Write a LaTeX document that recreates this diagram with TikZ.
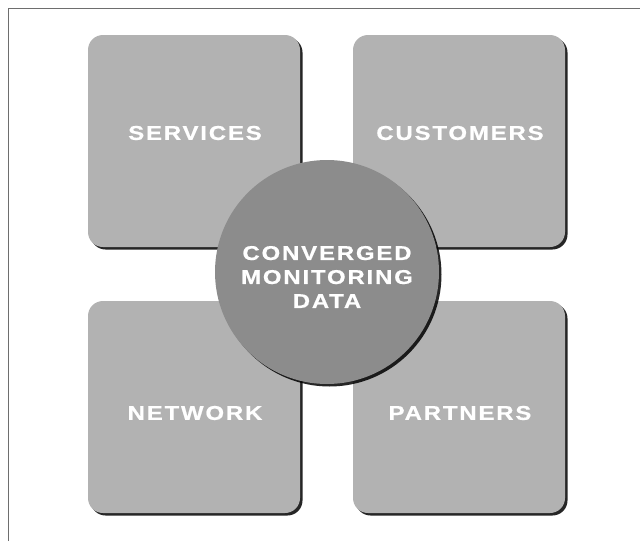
\documentclass[tikz,border=0pt]{standalone}
\usepackage{fontspec}
\newfontfamily\hfont[FakeStretch=1.2,LetterSpace=9,FakeBold=0.6]{Liberation Sans}
\usetikzlibrary{shadows}
\definecolor{sqfill}{HTML}{B2B2B2}
\definecolor{cfill}{HTML}{8C8C8C}
\definecolor{framec}{HTML}{6E6E6E}
\tikzset{
  sq/.style={fill=sqfill, rounded corners=15pt, minimum width=212pt, minimum height=212pt, inner sep=0pt,
    drop shadow={shadow xshift=2.5pt, shadow yshift=-2.5pt, fill=black, opacity=0.85}},
  circ/.style={circle, fill=cfill, minimum size=224pt, inner sep=0pt,
    drop shadow={shadow xshift=2.5pt, shadow yshift=-2.5pt, fill=black, opacity=0.85}},
  lbl/.style={text=white, font=\hfont\bfseries\fontsize{20}{24}\selectfont, inner sep=0pt, align=center},
}
\begin{document}
\begin{tikzpicture}[x=1pt,y=-1pt]
\useasboundingbox[fill=white] (0,0) rectangle (640,541);
\draw[framec, line width=1pt] (8.5,541) -- (8.5,8.5) -- (640,8.5);
\node[sq] (services) at (194,141) {};
\node[sq] (customers) at (459,141) {};
\node[sq] (network) at (194,407) {};
\node[sq] (partners) at (459,407) {};
\node[circ] (core) at (327,272) {};
\node[lbl] (servicesT) at (195,133) {SERVICES};
\node[lbl] (customersT) at (460,133) {CUSTOMERS};
\node[lbl] (networkT) at (195,413) {NETWORK};
\node[lbl] (partnersT) at (460,413) {PARTNERS};
\node[lbl] (coreT) at (327,277) {CONVERGED\\MONITORING\\DATA};
\end{tikzpicture}
\end{document}
